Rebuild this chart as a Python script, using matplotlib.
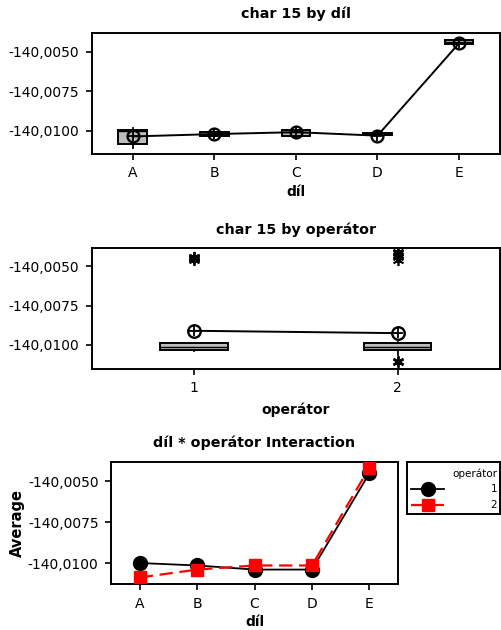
import numpy as np
import matplotlib
matplotlib.use("Agg")
import matplotlib.pyplot as plt
from matplotlib.ticker import FuncFormatter

# --- data ---
dil = ["A", "B", "C", "D", "E"]
dil_whislo = [-140.01108, -140.01040, -140.01040, -140.01025, -140.00450]
dil_q1 = [-140.01082, -140.01035, -140.01030, -140.01028, -140.00450]
dil_med = [-140.01000, -140.01020, -140.01010, -140.01020, -140.00440]
dil_q3 = [-140.00994, -140.01005, -140.00995, -140.01012, -140.00425]
dil_whishi = [-140.00980, -140.01000, -140.00990, -140.01012, -140.00420]
dil_mean = [-140.01035, -140.01020, -140.01008, -140.01030, -140.00445]

oper = ["1", "2"]
op_whislo = [-140.01035, -140.01065]
op_q1 = [-140.01032, -140.01032]
op_med = [-140.01010, -140.01010]
op_q3 = [-140.00990, -140.00990]
op_whishi = [-140.00988, -140.00980]
op_mean = [-140.00910, -140.00925]
op_fliers = [[-140.00440, -140.00445, -140.00450, -140.00455, -140.00460],
             [-140.00410, -140.00420, -140.00430, -140.00440, -140.00460,
              -140.01100, -140.01110]]

inter_op1 = [-140.01000, -140.01015, -140.01040, -140.01040, -140.00453]
inter_op2 = [-140.01088, -140.01040, -140.01015, -140.01015, -140.00419]

yticks = [-140.0100, -140.0075, -140.0050]


def fmt(v, pos):
    return ("%.4f" % v).replace(".", ",")


def style_axes(ax):
    for s in ax.spines.values():
        s.set_linewidth(1.4)
    ax.set_yticks(yticks)
    ax.yaxis.set_major_formatter(FuncFormatter(fmt))
    ax.tick_params(axis="both", labelsize=10, length=4, width=1.2,
                   direction="out", pad=5)


def boxes(ax, labels, lo, q1, med, q3, hi, fliers, width):
    stats = []
    for i in range(len(labels)):
        stats.append(dict(whislo=lo[i], q1=q1[i], med=med[i], q3=q3[i],
                          whishi=hi[i], fliers=fliers[i] if fliers else []))
    pos = np.arange(1, len(labels) + 1)
    ax.bxp(stats, positions=pos, widths=width, patch_artist=True, showcaps=False,
           boxprops=dict(facecolor="#bdbdbd", edgecolor="black", linewidth=1.4),
           medianprops=dict(color="black", linewidth=1.0),
           whiskerprops=dict(color="black", linewidth=1.3),
           flierprops=dict(marker=(6, 2, 0), markersize=8, markeredgecolor="black",
                           markeredgewidth=1.2, linestyle="none"))
    return pos


def means(ax, pos, m, size):
    ax.plot(pos, m, color="black", lw=1.4, zorder=4)
    ax.plot(pos, m, "o", ms=size, mfc="none", mec="black", mew=1.7, zorder=5)
    ax.plot(pos, m, "+", ms=size - 2, mec="black", mew=1.3, zorder=5)


fig = plt.figure(figsize=(5.01, 6.30), dpi=100)

# top: by dil
ax1 = fig.add_axes([0.1836, 0.7556, 0.814, 0.192])
p = boxes(ax1, dil, dil_whislo, dil_q1, dil_med, dil_q3, dil_whishi, None, 0.35)
means(ax1, p, dil_mean, 8.5)
ax1.set_xlim(0.5, 5.5)
ax1.set_ylim(-140.01146, -140.0038)
ax1.set_xticks(p)
ax1.set_xticklabels(dil)
style_axes(ax1)
ax1.set_title("char 15 by díl", fontsize=10.3, fontweight="bold", pad=11)
ax1.set_xlabel("díl", fontsize=10, fontweight="bold", labelpad=3)

# middle: by operator
ax2 = fig.add_axes([0.1836, 0.4143, 0.814, 0.192])
p = boxes(ax2, oper, op_whislo, op_q1, op_med, op_q3, op_whishi, op_fliers, 0.33)
means(ax2, p, op_mean, 9)
ax2.set_xlim(0.5, 2.5)
ax2.set_ylim(-140.01152, -140.00386)
ax2.set_xticks(p)
ax2.set_xticklabels(oper)
style_axes(ax2)
ax2.set_title("char 15 by operátor", fontsize=10.3, fontweight="bold", pad=10)
ax2.set_xlabel("operátor", fontsize=10, fontweight="bold", labelpad=5)

# bottom: interaction
ax3 = fig.add_axes([0.2216, 0.073, 0.573, 0.1937])
x = np.arange(1, len(dil) + 1)
ax3.plot(x, inter_op1, "-o", color="black", ms=10, lw=1.3, zorder=3)
ax3.plot(x, inter_op2, "--s", color="red", ms=8, lw=1.6, dashes=(6, 3), zorder=4)
ax3.set_xlim(0.5, 5.5)
ax3.set_ylim(-140.01128, -140.00384)
ax3.set_xticks(x)
ax3.set_xticklabels(dil)
style_axes(ax3)
ax3.set_title("díl * operátor Interaction", fontsize=10.3, fontweight="bold", pad=11)
ax3.set_xlabel("díl", fontsize=10, fontweight="bold", labelpad=3)
ax3.set_ylabel("Average", fontsize=10.5, fontweight="bold", labelpad=2)

# legend box drawn as its own small axes
lg = fig.add_axes([0.812, 0.184, 0.186, 0.0825])
lg.set_xlim(0, 1)
lg.set_ylim(0, 1)
lg.set_xticks([])
lg.set_yticks([])
for s in lg.spines.values():
    s.set_linewidth(1.4)
lg.text(0.97, 0.78, "operátor", ha="right", va="center", fontsize=7.5)
lg.plot([0.05, 0.40], [0.49, 0.49], color="black", lw=1.3)
lg.plot([0.225], [0.49], "o", color="black", ms=10)
lg.plot([0.05, 0.40], [0.18, 0.18], color="red", lw=1.6, ls="--", dashes=(6, 3))
lg.plot([0.225], [0.18], "s", color="red", ms=8)
lg.text(0.97, 0.49, "1", ha="right", va="center", fontsize=7.5)
lg.text(0.97, 0.18, "2", ha="right", va="center", fontsize=7.5)

fig.savefig("out.png", dpi=100)
